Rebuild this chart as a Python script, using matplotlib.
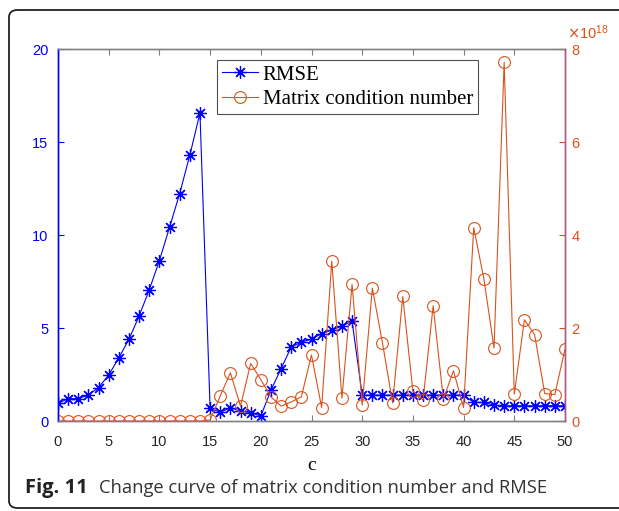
import matplotlib
matplotlib.use('Agg')
from matplotlib import pyplot as plt
from matplotlib.patches import FancyBboxPatch
from matplotlib.ticker import ScalarFormatter

c = list(range(51))
rmse = [0.95, 1.2, 1.2, 1.4, 1.8, 2.47, 3.4, 4.4, 5.65, 7.06,
        8.63, 10.42, 12.24, 14.3, 16.57, 0.68, 0.47, 0.71, 0.54, 0.45,
        0.27, 1.66, 2.82, 3.98, 4.25, 4.4, 4.7, 4.9, 5.1, 5.38,
        1.39, 1.39, 1.39, 1.39, 1.39, 1.39, 1.39, 1.39, 1.39, 1.39,
        1.39, 1.0, 1.0, 0.85, 0.82, 0.82, 0.82, 0.82, 0.82, 0.82, 0.82]
cond = [0.0, 0.0, 0.0, 0.0, 0.0, 0.0, 0.0, 0.0, 0.0, 0.0,
        0.0, 0.0, 0.0, 0.0, 0.0, 0.02, 0.54, 1.04, 0.32, 1.24,
        0.89, 0.52, 0.32, 0.41, 0.52, 1.42, 0.29, 3.44, 0.49, 2.94,
        0.34, 2.86, 1.68, 0.39, 2.68, 0.64, 0.45, 2.48, 0.47, 1.08,
        0.29, 4.16, 3.06, 1.57, 7.72, 0.58, 2.18, 1.86, 0.59, 0.57, 1.55]
cond = [v * 1e18 for v in cond]

blue = '#0000ff'
orange = '#d95319'
gray = '#262626'
W, H = 619, 511

fig = plt.figure(figsize=(6.19, 5.11), dpi=100)

# frame around figure + caption (right side runs off the image)
frame = FancyBboxPatch((9 / W, 3 / H), 1.05, 498 / H,
                       boxstyle='round,pad=0,rounding_size=0.014',
                       transform=fig.transFigure, fill=False,
                       edgecolor='#222222', linewidth=1.3, clip_on=False)
fig.patches.append(frame)

ax = fig.add_axes([58 / W, 90 / H, 507 / W, 371.7 / H])
ax2 = ax.twinx()

ax.plot(c, rmse, color=blue, marker=(8, 2, 0), markersize=9, linewidth=0.8,
        markeredgewidth=0.9, label='RMSE')
ax2.plot(c, cond, color=orange, marker='o', markersize=8.5, linewidth=0.8,
         markerfacecolor='none', markeredgewidth=0.8,
         label='Matrix condition number')

ax.set_xlim(0, 50)
ax.set_ylim(0, 20)
ax2.set_ylim(0, 8e18)
ax.set_xticks(range(0, 51, 5))
ax.set_yticks(range(0, 21, 5))
ax2.set_yticks([0, 2e18, 4e18, 6e18, 8e18])

fmt = ScalarFormatter(useMathText=True)
fmt.set_powerlimits((0, 0))
ax2.yaxis.set_major_formatter(fmt)
ax2.yaxis.get_offset_text().set_visible(False)
fig.text(567 / W, (H - 39) / H, r'$\times\mathregular{10^{18}}$', color=orange,
         fontsize=10.5, fontfamily='Liberation Sans', va='baseline', ha='left')

ax.tick_params(axis='x', direction='in', top=True, colors='#808080',
               labelcolor=gray, labelsize=10.5, length=4, pad=10)
ax.tick_params(axis='y', direction='in', colors=blue, labelsize=10.5,
               length=4, pad=7)
ax2.tick_params(axis='y', direction='in', colors=orange, labelsize=10.5,
                length=4, pad=4)
for lab in ax.get_xticklabels() + ax.get_yticklabels() + ax2.get_yticklabels():
    lab.set_fontfamily('Liberation Sans')

for a in (ax, ax2):
    a.spines['top'].set_color('#808080')
    a.spines['bottom'].set_color('#808080')
    a.spines['left'].set_color(blue)
    a.spines['right'].set_color('#b0587e')
    for s in a.spines.values():
        s.set_linewidth(1.0)

ax.set_xlabel('c', fontfamily='Liberation Serif', fontsize=14, labelpad=6)

h1, l1 = ax.get_legend_handles_labels()
h2, l2 = ax2.get_legend_handles_labels()
leg = ax2.legend(h1 + h2, l1 + l2, loc='upper left',
                 bbox_to_anchor=((217 - 58) / 507, (421 - 60) / 371.7),
                 prop={'family': 'Liberation Serif', 'size': 15},
                 frameon=True, fancybox=False, edgecolor=gray,
                 borderpad=0.25, labelspacing=0.22, handlelength=1.7,
                 handletextpad=0.25, borderaxespad=0)
leg.get_frame().set_linewidth(0.8)

fig.text(25 / W, (H - 493) / H, 'Fig. 11', fontfamily='Open Sans',
         fontweight='bold', fontsize=14.5, va='baseline', color='#222222')
fig.text(99 / W, (H - 493) / H, 'Change curve of matrix condition number and RMSE',
         fontfamily='Open Sans', fontsize=13.2, va='baseline', color='#333333')

fig.savefig('out.png', dpi=100)
